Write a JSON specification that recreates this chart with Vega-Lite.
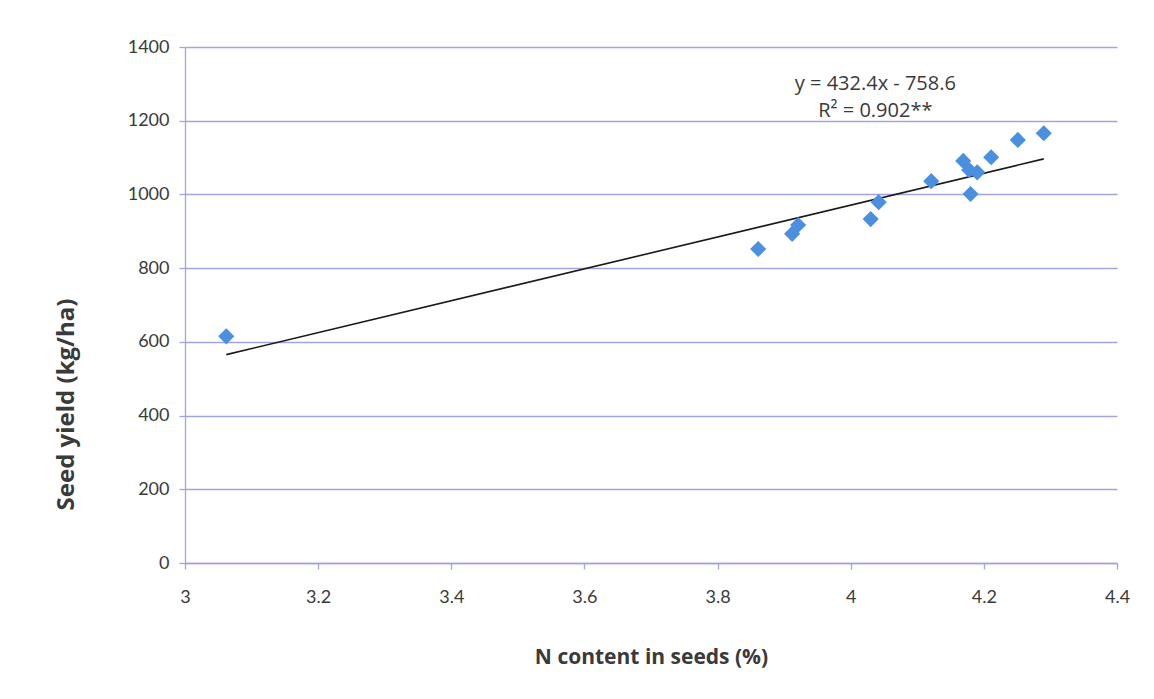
{
  "$schema": "https://vega.github.io/schema/vega-lite/v6.json",
  "width": 932,
  "height": 516,
  "autosize": {"type": "none"},
  "padding": {"left": 185, "top": 47, "right": 37, "bottom": 136},
  "background": "#ffffff",
  "config": {
    "view": {"stroke": null},
    "font": "Lato",
    "axis": {
      "labelFont": "Lato",
      "titleFont": "Open Sans",
      "labelColor": "#3a3a3a",
      "titleColor": "#3a3a3a",
      "labelFontSize": 18,
      "titleFontWeight": "bold",
      "gridColor": "#a4a4dc",
      "gridWidth": 1.3,
      "gridOpacity": 1,
      "domainColor": "#a4a4dc",
      "domainWidth": 1.3,
      "tickColor": "#a4a4dc",
      "tickSize": 6,
      "tickWidth": 1.3
    }
  },
  "datasets": {
    "samples": [
      {"n_pct": 3.062, "yield": 615},
      {"n_pct": 3.861, "yield": 852},
      {"n_pct": 3.912, "yield": 893},
      {"n_pct": 3.921, "yield": 917},
      {"n_pct": 4.030, "yield": 933},
      {"n_pct": 4.042, "yield": 979},
      {"n_pct": 4.121, "yield": 1036},
      {"n_pct": 4.169, "yield": 1091},
      {"n_pct": 4.178, "yield": 1066},
      {"n_pct": 4.190, "yield": 1060},
      {"n_pct": 4.180, "yield": 1001},
      {"n_pct": 4.211, "yield": 1101},
      {"n_pct": 4.251, "yield": 1148},
      {"n_pct": 4.290, "yield": 1166}
    ],
    "fit": [
      {"n_pct": 3.062, "yield": 565.4},
      {"n_pct": 4.290, "yield": 1096.4}
    ],
    "labels": [
      {"n_pct": 4.037, "yield": 1300, "text": "y = 432.4x - 758.6"},
      {"n_pct": 4.037, "yield": 1226, "text": "R² = 0.902**"}
    ]
  },
  "encoding": {
    "x": {
      "field": "n_pct",
      "type": "quantitative",
      "scale": {"domain": [3, 4.4], "nice": false, "zero": false},
      "axis": {
        "title": "N content in seeds (%)",
        "titleFontSize": 21,
        "values": [3, 3.2, 3.4, 3.6, 3.8, 4, 4.2, 4.4],
        "labelExpr": "'' + datum.value",
        "grid": false,
        "labelPadding": 28,
        "labelBaseline": "middle",
        "labelFlush": false,
        "titleY": 94,
        "titleBaseline": "middle"
      }
    },
    "y": {
      "field": "yield",
      "type": "quantitative",
      "scale": {"domain": [0, 1400], "nice": false},
      "axis": {
        "title": "Seed yield (kg/ha)",
        "titleFontSize": 24,
        "values": [0, 200, 400, 600, 800, 1000, 1200, 1400],
        "labelExpr": "'' + datum.value",
        "labelPadding": 10,
        "titleX": -119,
        "titleY": 357,
        "titleAngle": -90,
        "titleAlign": "center",
        "titleBaseline": "middle"
      }
    }
  },
  "layer": [
    {
      "data": {"name": "fit"},
      "mark": {"type": "line", "color": "#1a1a1a", "strokeWidth": 1.6}
    },
    {
      "data": {"name": "samples"},
      "mark": {"type": "point", "shape": "diamond", "filled": true, "size": 260, "color": "#4a8fe0", "opacity": 1}
    },
    {
      "data": {"name": "labels"},
      "mark": {"type": "text", "font": "Open Sans", "fontSize": 20, "color": "#3a3a3a", "align": "center", "baseline": "middle"},
      "encoding": {"text": {"field": "text"}}
    }
  ]
}
